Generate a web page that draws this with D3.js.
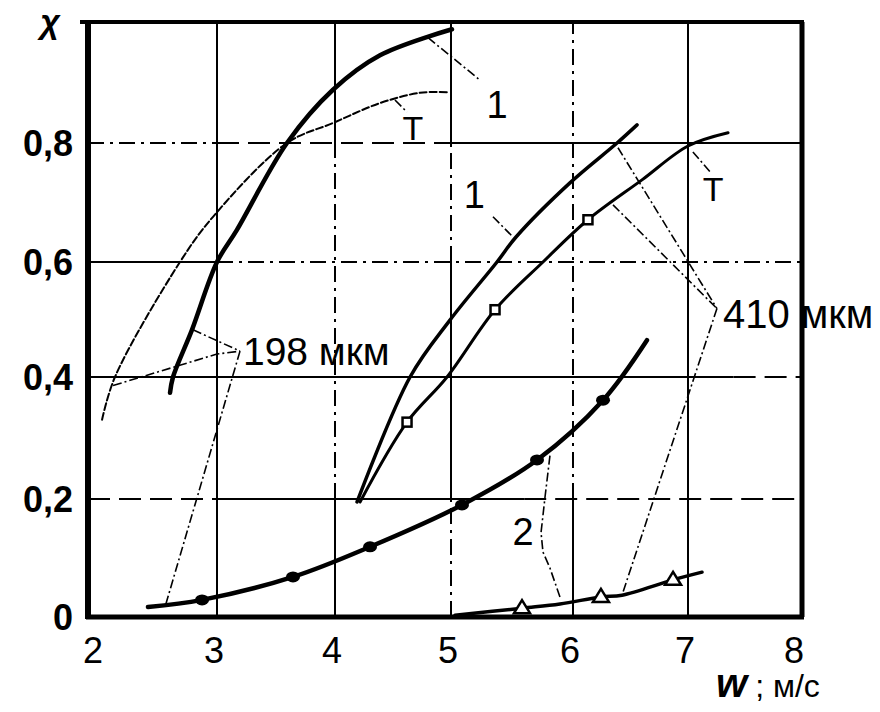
<!DOCTYPE html>
<html><head><meta charset="utf-8">
<script src="https://cdn.jsdelivr.net/npm/d3@7"></script>
<style>
html,body{margin:0;padding:0;background:#fff;}
svg{display:block;}
text{font-family:"Liberation Sans",Arial,sans-serif;fill:#000;}
</style></head>
<body>
<svg id="chart" width="880" height="712"></svg>
<script>
// ---------- data ----------
const xTicks = [2,3,4,5,6,7,8];
const yTicks = [0,0.2,0.4,0.6,0.8];
const yTickLabels = ["0","0,2","0,4","0,6","0,8"];

// 198 мкм, curve "1" (thick)
const c198_1 = [[2.636,0.374],[2.659,0.400],[2.806,0.482],[3.0,0.600],[3.169,0.654],[3.593,0.800],[3.983,0.888],[4.388,0.945],[5.008,0.988]];
// 198 мкм, curve "T" (thin)
const c198_T = [[2.109,0.330],[2.209,0.400],[2.713,0.600],[2.969,0.676],[3.593,0.800],[3.983,0.833],[4.388,0.866],[4.733,0.883],[4.966,0.884]];
// 410 мкм, curve "1"
const c410_1 = [[4.190,0.195],[4.647,0.400],[4.991,0.499],[5.377,0.600],[5.533,0.642],[5.975,0.733],[6.383,0.800],[6.557,0.830]];
// 410 мкм, curve "T" (open square markers)
const c410_T = [[4.216,0.195],[4.621,0.326],[4.966,0.400],[5.361,0.517],[5.754,0.600],[6.130,0.671],[6.600,0.738],[7.000,0.795],[7.351,0.817]];
const m410_T = [[4.621,0.326],[5.361,0.517],[6.130,0.671]];
// 198 мкм, curve "2" (filled markers)
const c198_2 = [[2.465,0.017],[2.884,0.029],[3.644,0.068],[4.302,0.119],[5.090,0.190],[5.705,0.264],[6.261,0.362],[6.643,0.464]];
const m198_2 = [[2.884,0.029],[3.644,0.068],[4.302,0.119],[5.090,0.190],[5.705,0.264],[6.261,0.362]];
// 410 мкм, curve "2" (open triangles)
const c410_2 = [[5.033,0.003],[5.582,0.015],[5.893,0.022],[6.243,0.034],[6.426,0.037],[6.870,0.063],[7.123,0.076]];
const m410_2 = [[5.582,0.015],[6.243,0.034],[6.870,0.063]];

// ---------- scales (scanned axis: tick spacing slightly uneven) ----------
const x = d3.scaleLinear().domain([2,3,4,5,6,7,8]).range([88,217,335,451,573,688,802]);
const y = d3.scaleLinear().domain([0,0.2,0.4,0.6,0.8,1.0]).range([617,499,377,262,143,22]);

const svg = d3.select("#chart");
const g = svg.append("g");

// ---------- grid ----------
const DASH = "22,9", DOT = "16,6,3,6";
const gridSegs = [
  {o:"h",v:0.2,a:2,b:3,d:DASH},{o:"h",v:0.2,a:3,b:5.6,d:null},{o:"h",v:0.2,a:5.6,b:8,d:DASH},
  {o:"h",v:0.4,a:2,b:7.4,d:null},{o:"h",v:0.4,a:7.4,b:8,d:DASH},
  {o:"h",v:0.6,a:2,b:3,d:null},{o:"h",v:0.6,a:3,b:8,d:DOT},
  {o:"h",v:0.8,a:2,b:3,d:DOT},{o:"h",v:0.8,a:3,b:5,d:DASH},{o:"h",v:0.8,a:5,b:8,d:null},
  {o:"v",v:3,a:0,b:1,d:null},
  {o:"v",v:4,a:0.8,b:1,d:null},{o:"v",v:4,a:0.2,b:0.8,d:DOT},{o:"v",v:4,a:0,b:0.2,d:null},
  {o:"v",v:5,a:0.8,b:1,d:null},{o:"v",v:5,a:0.6,b:0.8,d:DOT},{o:"v",v:5,a:0.2,b:0.6,d:null},{o:"v",v:5,a:0,b:0.2,d:DOT},
  {o:"v",v:6,a:0.2,b:1,d:DOT},{o:"v",v:6,a:0,b:0.2,d:null},
  {o:"v",v:7,a:0,b:1,d:null}
];
g.append("g").selectAll("line").data(gridSegs).join("line")
  .attr("x1",d=>d.o==="h"?x(d.a):x(d.v)).attr("x2",d=>d.o==="h"?x(d.b):x(d.v))
  .attr("y1",d=>d.o==="h"?y(d.v):y(d.a)).attr("y2",d=>d.o==="h"?y(d.v):y(d.b))
  .attr("stroke","#000").attr("stroke-width",2)
  .attr("stroke-dasharray",d=>d.d);

// ---------- frame ----------
g.append("line").attr("x1",x(2)).attr("x2",x(2)).attr("y1",y(1)-2).attr("y2",y(0)+2).attr("stroke","#000").attr("stroke-width",6);
g.append("line").attr("x1",x(2)-8).attr("x2",x(8)+2).attr("y1",y(1)).attr("y2",y(1)).attr("stroke","#000").attr("stroke-width",4);
g.append("line").attr("x1",x(8)).attr("x2",x(8)).attr("y1",y(1)).attr("y2",y(0)).attr("stroke","#000").attr("stroke-width",5);
g.append("line").attr("x1",x(2)-2).attr("x2",x(8)+2).attr("y1",y(0)).attr("y2",y(0)).attr("stroke","#000").attr("stroke-width",5);

// ---------- tick labels ----------
g.append("g").selectAll("text").data(yTicks).join("text")
  .attr("x",73).attr("y",d=>y(d)).attr("dy","0.36em")
  .attr("text-anchor","end").attr("font-size",36).attr("font-weight","bold")
  .text((d,i)=>yTickLabels[i]);
g.append("g").selectAll("text").data(xTicks).join("text")
  .attr("x",d=>x(d)+(d===2?5:d===8?-8:-3)).attr("y",663)
  .attr("text-anchor","middle").attr("font-size",36)
  .text(d=>d);

// axis titles
g.append("text").attr("x",50).attr("y",33).attr("text-anchor","middle")
  .attr("font-family","'DejaVu Serif',serif").attr("font-style","italic").attr("font-weight","bold")
  .attr("font-size",34).text("χ");
const xt = g.append("text").attr("x",716).attr("y",697);
xt.append("tspan").attr("font-size",40).attr("font-weight","bold").attr("font-style","italic").text("w");
xt.append("tspan").attr("font-size",32).attr("dx",8).text("; м/с");

// ---------- curves ----------
const line = d3.line().x(d=>x(d[0])).y(d=>y(d[1])).curve(d3.curveCatmullRom.alpha(0.5));
const curves = [
  {d:c198_T,w:2,dash:"7,3"},
  {d:c198_1,w:4.5,dash:null},
  {d:c410_1,w:3.5,dash:null},
  {d:c410_T,w:3,dash:null},
  {d:c198_2,w:4.5,dash:null},
  {d:c410_2,w:3.5,dash:null}
];
g.append("g").selectAll("path").data(curves).join("path")
  .attr("d",c=>line(c.d)).attr("fill","none").attr("stroke","#000")
  .attr("stroke-width",c=>c.w).attr("stroke-dasharray",c=>c.dash).attr("stroke-linecap","round");

// leader lines
const leaders = [
  [[4.802,0.974],[5.238,0.904]],
  [[4.517,0.871],[4.621,0.851]],
  [[5.344,0.676],[5.508,0.642]],
  [[7.043,0.785],[7.191,0.752]],
  [[6.391,0.792],[7.254,0.519]],
  [[6.348,0.696],[7.254,0.519]],
  [[7.254,0.519],[6.426,0.037]],
  [[2.194,0.386],[3.0,0.440],[3.195,0.445]],
  [[2.814,0.482],[3.195,0.445]],
  [[3.195,0.445],[2.597,0.017]],
  [[5.811,0.271],[5.770,0.202],[5.738,0.143],[5.754,0.110],[5.811,0.083],[5.893,0.034]]
];
g.append("g").selectAll("path").data(leaders).join("path")
  .attr("d",d3.line().x(d=>x(d[0])).y(d=>y(d[1])))
  .attr("fill","none").attr("stroke","#000").attr("stroke-width",1.6)
  .attr("stroke-dasharray","9,3,2,3");

// markers
g.append("g").selectAll("ellipse").data(m198_2).join("ellipse")
  .attr("cx",d=>x(d[0])).attr("cy",d=>y(d[1])).attr("rx",7).attr("ry",5.5).attr("fill","#000");
g.append("g").selectAll("path").data(m410_2).join("path")
  .attr("d",d=>{const cx=x(d[0]),cy=y(d[1]);return `M${cx-8},${cy+5}L${cx},${cy-8}L${cx+8},${cy+5}Z`;})
  .attr("fill","#fff").attr("stroke","#000").attr("stroke-width",2.5);
g.append("g").selectAll("rect").data(m410_T).join("rect")
  .attr("x",d=>x(d[0])-4.5).attr("y",d=>y(d[1])-4.5).attr("width",9).attr("height",9)
  .attr("fill","#fff").attr("stroke","#000").attr("stroke-width",2.5);

// ---------- annotation labels ----------
const labels = [
  {t:"1",w:5.377,c:0.842,s:38},
  {t:"T",w:4.672,c:0.805,s:34},
  {t:"1",w:5.191,c:0.690,s:38},
  {t:"T",w:7.221,c:0.703,s:34},
  {t:"410 мкм",w:7.307,c:0.486,s:40,a:"start"},
  {t:"198 мкм",w:3.220,c:0.421,s:39,a:"start"},
  {t:"2",w:5.590,c:0.122,s:38}
];
g.append("g").selectAll("text").data(labels).join("text")
  .attr("x",d=>x(d.w)).attr("y",d=>y(d.c))
  .attr("text-anchor",d=>d.a||"middle").attr("font-size",d=>d.s)
  .attr("font-family","Roboto,'Liberation Sans',sans-serif").attr("font-weight",300)
  .text(d=>d.t);
</script>
</body></html>
